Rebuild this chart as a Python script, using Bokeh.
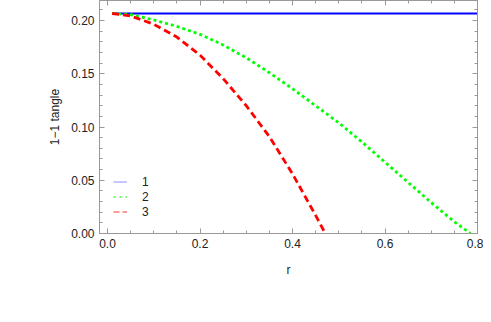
from bokeh.plotting import figure
from bokeh.models import Range1d, LinearAxis, SingleIntervalTicker, NumeralTickFormatter, Legend, LegendItem, ColumnDataSource
from bokeh.embed import file_html
from bokeh.resources import INLINE

# Data
r_blue = [0.01, 0.8]
v_blue = [0.2066, 0.2066]

r_green = [0.01, 0.05, 0.1, 0.15, 0.2, 0.25, 0.3, 0.35, 0.4, 0.45, 0.5, 0.55, 0.6, 0.65, 0.7, 0.75, 0.785]
v_green = [0.2066, 0.2055, 0.2005, 0.1945, 0.187, 0.177, 0.165, 0.151, 0.136, 0.120, 0.104, 0.086, 0.067, 0.048, 0.029, 0.011, 0.0]

r_red = [0.01, 0.05, 0.1, 0.15, 0.2, 0.25, 0.3, 0.35, 0.4, 0.45, 0.471]
v_red = [0.2066, 0.2043, 0.1965, 0.1845, 0.1675, 0.1455, 0.1200, 0.0910, 0.0560, 0.0170, 0.0]

labels = ["1", "2", "3"]

FONT = "Liberation Sans"
FRAME = "#999999"

p = figure(width=483, height=300, output_backend="svg", toolbar_location=None,
           x_range=Range1d(-0.0173, 0.8), y_range=Range1d(0, 0.2188),
           min_border_left=99, min_border_right=6, min_border_top=1, min_border_bottom=66,
           x_axis_type=None, y_axis_type=None, margin=(-1, 0, 0, 0))
p.xgrid.visible = False
p.ygrid.visible = False
p.outline_line_color = FRAME
p.background_fill_color = "white"

def mk_axis(kind, show_labels, label=None, standoff=12):
    if kind == "x":
        ax = LinearAxis(ticker=SingleIntervalTicker(interval=0.2, num_minor_ticks=4),
                        formatter=NumeralTickFormatter(format="0.0"))
    else:
        ax = LinearAxis(ticker=SingleIntervalTicker(interval=0.05, num_minor_ticks=5),
                        formatter=NumeralTickFormatter(format="0.00"))
    ax.axis_line_color = FRAME
    ax.major_tick_line_color = FRAME
    ax.minor_tick_line_color = FRAME
    ax.major_tick_in = 5
    ax.major_tick_out = 0
    ax.minor_tick_in = 3
    ax.minor_tick_out = 0
    ax.major_label_text_font = FONT
    ax.major_label_text_font_size = "12px"
    ax.major_label_text_color = "#222222"
    ax.major_label_standoff = 5
    if not show_labels:
        ax.major_label_text_alpha = 0
        ax.major_label_text_font_size = "1px"
    if label:
        ax.axis_label = label
        ax.axis_label_text_font = FONT
        ax.axis_label_text_font_size = "12px"
        ax.axis_label_text_font_style = "normal"
        ax.axis_label_text_color = "#222222"
        ax.axis_label_standoff = standoff
    return ax

p.add_layout(mk_axis("x", True, "r", 12), "below")
p.add_layout(mk_axis("y", True, "1\u22121 tangle", 6), "left")
p.add_layout(mk_axis("x", False), "above")
p.add_layout(mk_axis("y", False), "right")

p.line(r_blue, v_blue, line_color="#0000ff", line_width=2)
p.line(r_green, v_green, line_color="#00ff00", line_width=2.8, line_dash="3 3")
p.line(r_red, v_red, line_color="#ff0000", line_width=2.8, line_dash="7 4")

nan = float("nan")
dummy = ColumnDataSource(data=dict(x=[nan], y=[nan]))
l1 = p.line("x", "y", source=dummy, line_color="#0000ff", line_width=2, line_alpha=0.22)
l2 = p.line("x", "y", source=dummy, line_color="#00ff00", line_width=2, line_alpha=0.6, line_dash="2 4")
l3 = p.line("x", "y", source=dummy, line_color="#ff0000", line_width=2, line_alpha=0.4, line_dash="6 3")

legend = Legend(items=[LegendItem(label=labels[0], renderers=[l1]),
                       LegendItem(label=labels[1], renderers=[l2]),
                       LegendItem(label=labels[2], renderers=[l3])],
                location=(14, 14), orientation="vertical",
                padding=0, margin=0, spacing=0,
                glyph_width=14, glyph_height=15, label_height=15,
                label_standoff=15, label_text_font=FONT, label_text_font_size="12px",
                label_text_color="#222222",
                background_fill_alpha=0, border_line_alpha=0)
p.add_layout(legend, "center")

open("out.html", "w").write(file_html(p, INLINE))
